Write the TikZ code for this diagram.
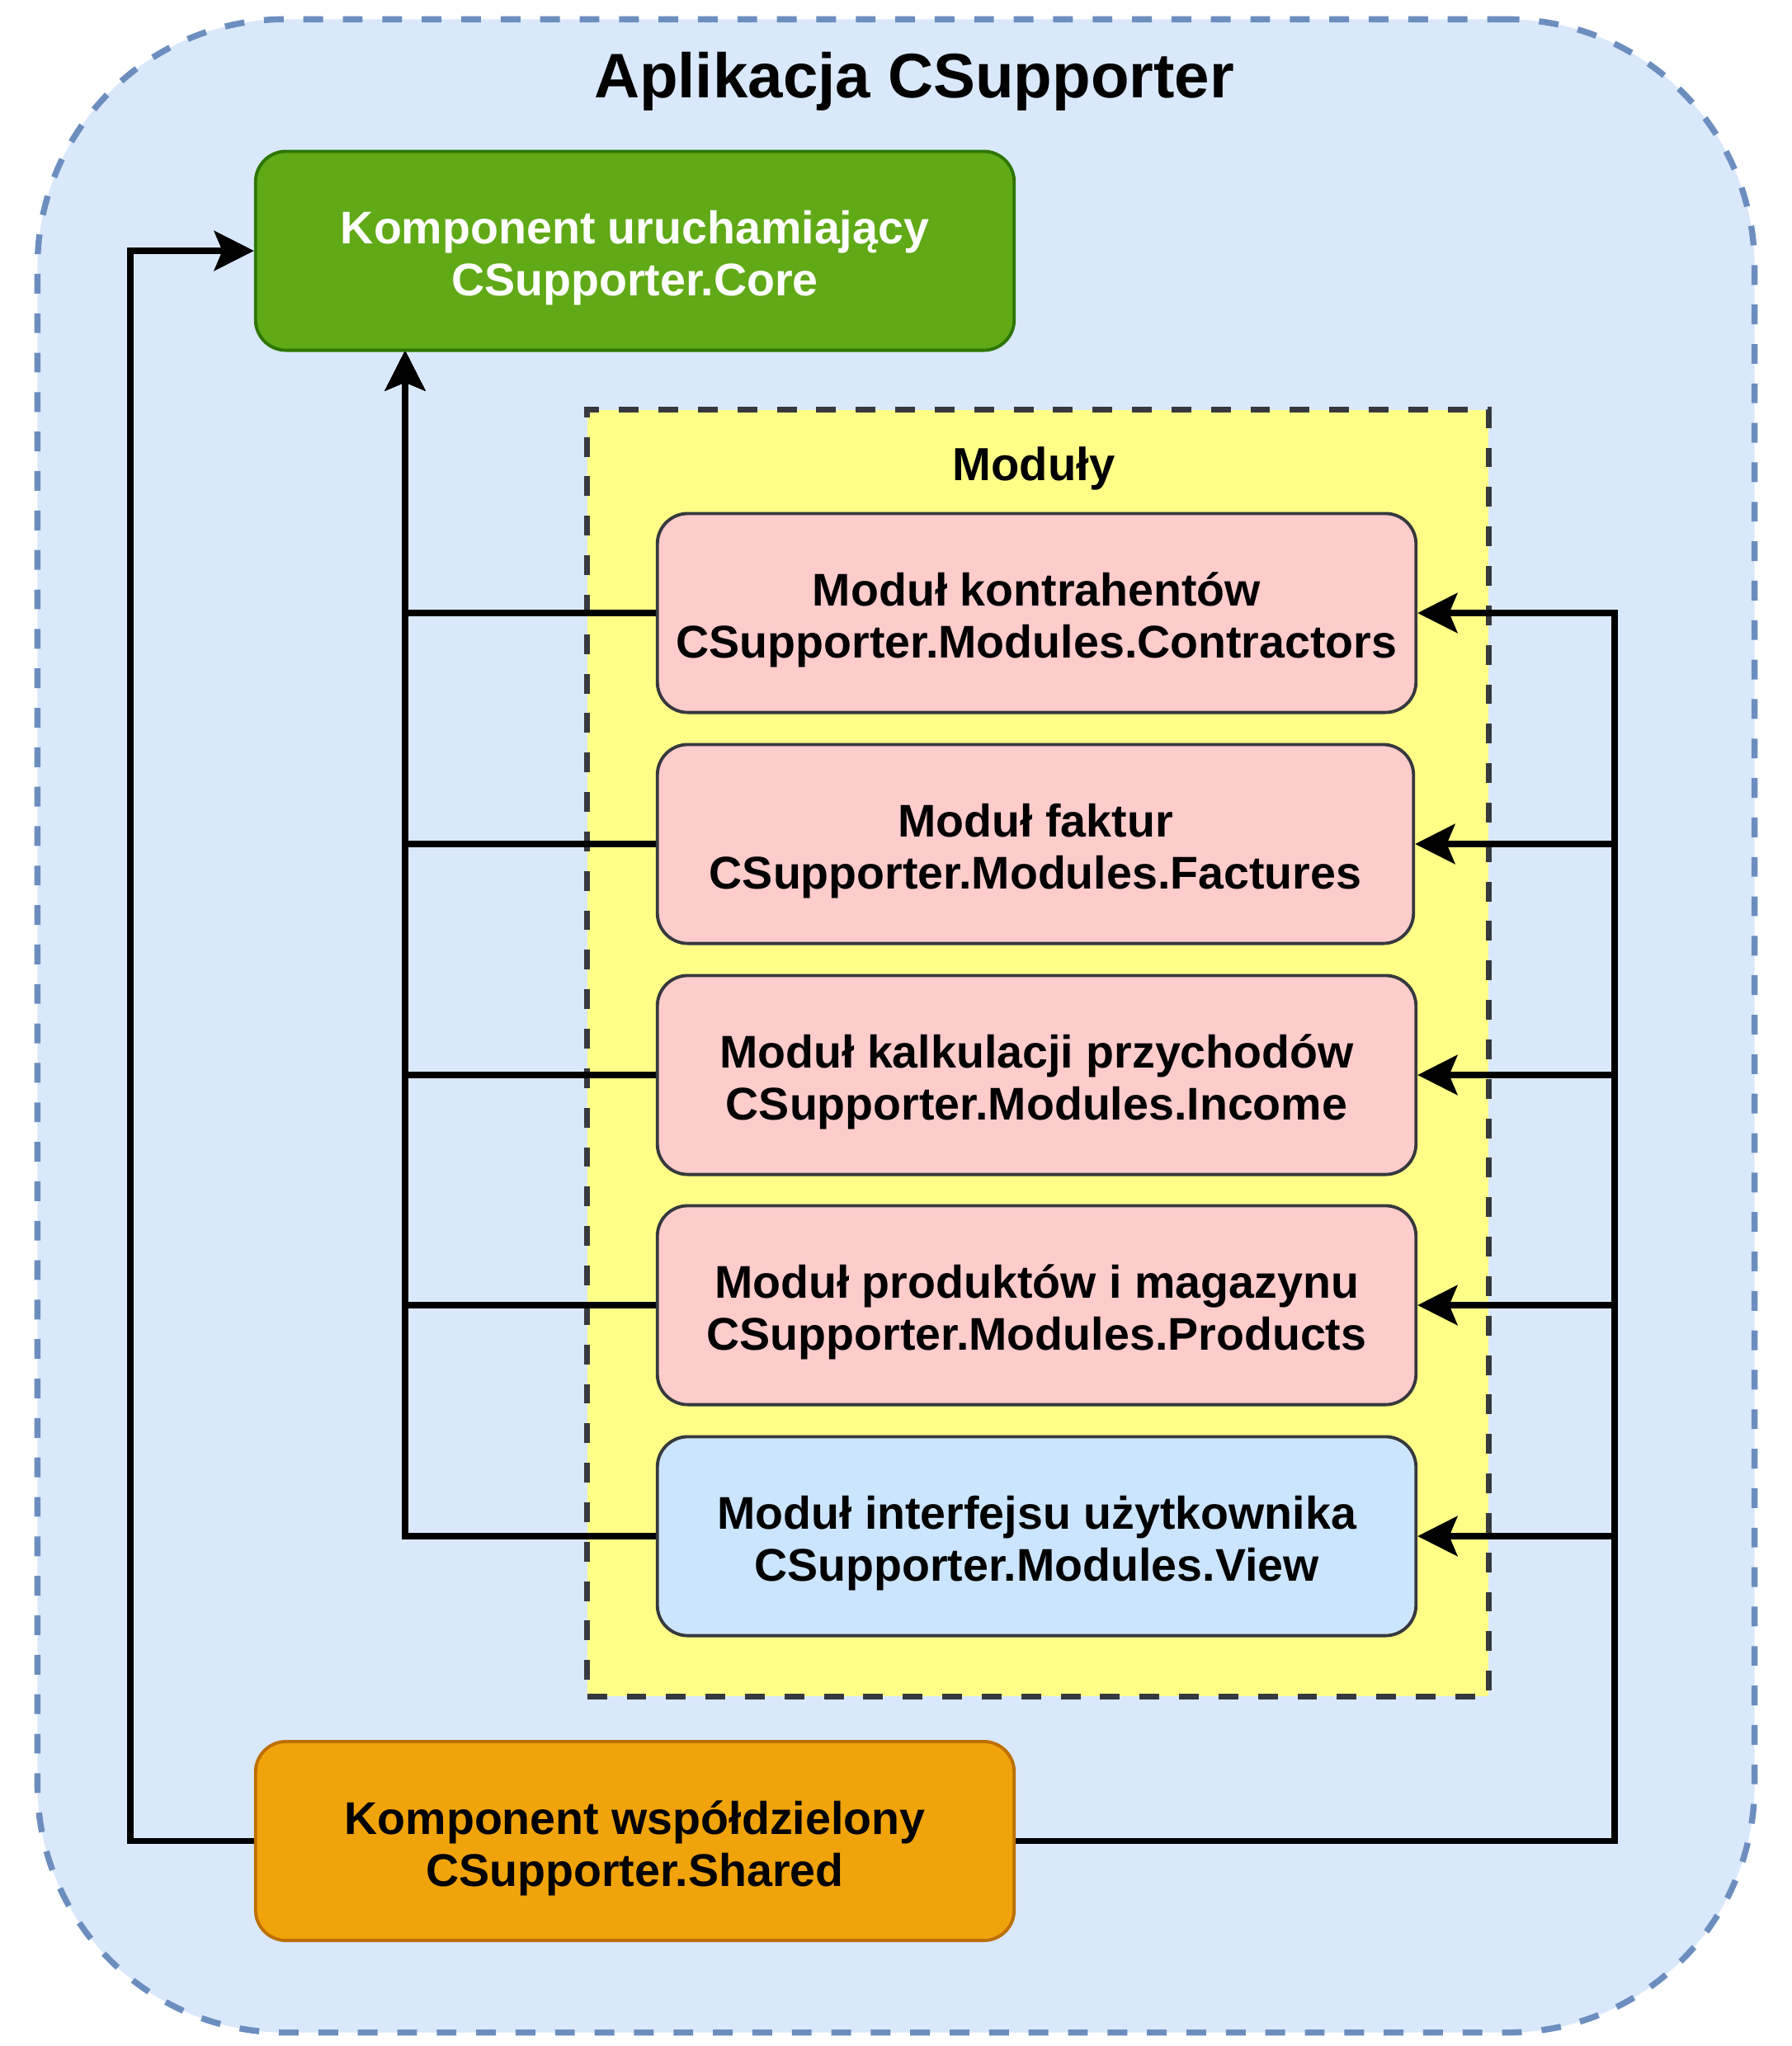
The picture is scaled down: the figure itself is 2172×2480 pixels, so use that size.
\documentclass[tikz,border=0pt]{standalone}
\usepackage{fontspec}
\setmainfont{Liberation Sans}
\usepackage{tikz}
\usetikzlibrary{arrows.meta}
\pgfdeclarelayer{background}
\pgfdeclarelayer{edgelayer}
\pgfdeclarelayer{nodelayer}
\pgfsetlayers{background,edgelayer,nodelayer,main}
\tikzstyle{none}=[inner sep=0pt]
\tikzstyle{comp}=[rectangle, rounded corners=10.5pt, line width=1.1pt, minimum width=9.19cm, minimum height=2.41cm, align=center, text height=34.5pt, font=\fontsize{15.8}{18}\selectfont\bfseries, draw]
\tikzstyle{module}=[comp, fill=modpink, draw=darkline, text=black]
\tikzstyle{link}=[line width=2.1pt, -{Stealth[length=13.7pt, width=13.7pt, inset=2.8pt]}]
\tikzstyle{frame}=[line width=2.1pt, dash pattern=on 6.8pt off 6.8pt]
\definecolor{appfill}{HTML}{DAE8FC}
\definecolor{appline}{HTML}{6C8EBF}
\definecolor{modfill}{HTML}{FFFF88}
\definecolor{darkline}{HTML}{36393D}
\definecolor{modpink}{HTML}{FFCCCC}
\definecolor{modblue}{HTML}{CCE5FF}
\definecolor{coregreen}{HTML}{60A917}
\definecolor{coreline}{HTML}{2D7600}
\definecolor{sharedorange}{HTML}{F0A30A}
\definecolor{sharedline}{HTML}{BD7000}

\begin{document}
\begin{tikzpicture}[x=0.01cm, y=-0.01cm]
    \useasboundingbox (0,0) rectangle (2172,2480);
    \begin{pgfonlayer}{background}
	\node [style=none, style=frame, draw=appline, fill=appfill, rounded corners=3cm, minimum width=20.8cm, minimum height=24.39cm] (0) at (1086, 1243.5) {};
	\node [style=none, style=frame, draw=darkline, fill=modfill, minimum width=10.92cm, minimum height=15.59cm] (1) at (1258, 1276.5) {};
    \end{pgfonlayer}
    \begin{pgfonlayer}{nodelayer}
	\node [style=none, anchor=base, font=\fontsize{21.7}{26}\selectfont\bfseries] (2) at (1108, 118) {Aplikacja CSupporter};
	\node [style=comp, fill=coregreen, draw=coreline, text=white] (3) at (769.5, 304) {Komponent uruchamiający\\CSupporter.Core};
	\node [style=none, anchor=base, font=\fontsize{16}{18}\selectfont\bfseries] (4) at (1253, 582) {Moduły};
	\node [style=module] (5) at (1256.5, 743) {Moduł kontrahentów\\CSupporter.Modules.Contractors};
	\node [style=module, minimum width=9.16cm] (6) at (1255, 1023) {Moduł faktur\\CSupporter.Modules.Factures};
	\node [style=module] (7) at (1256.5, 1303) {Moduł kalkulacji przychodów\\CSupporter.Modules.Income};
	\node [style=module] (8) at (1256.5, 1582) {Moduł produktów i magazynu\\CSupporter.Modules.Products};
	\node [style=module, fill=modblue] (9) at (1256.5, 1862) {Moduł interfejsu użytkownika\\CSupporter.Modules.View};
	\node [style=comp, fill=sharedorange, draw=sharedline, text=black] (10) at (769.5, 2231.5) {Komponent współdzielony\\CSupporter.Shared};
	\coordinate (11) at (491, 425);
	\coordinate (12) at (158, 2231.5);
	\coordinate (13) at (1957, 2231.5);
    \end{pgfonlayer}
    \begin{pgfonlayer}{edgelayer}
	\draw [style=link] (5.west) -| (11);
	\draw [style=link] (6.west) -| (11);
	\draw [style=link] (7.west) -| (11);
	\draw [style=link] (8.west) -| (11);
	\draw [style=link] (9.west) -| (11);
	\draw [style=link] (10.west) -- (12) |- (3.west);
	\draw [style=link] (10.east) -- (13) |- (5.east);
	\draw [style=link] (10.east) -- (13) |- (6.east);
	\draw [style=link] (10.east) -- (13) |- (7.east);
	\draw [style=link] (10.east) -- (13) |- (8.east);
	\draw [style=link] (10.east) -- (13) |- (9.east);
    \end{pgfonlayer}
\end{tikzpicture}
\end{document}
